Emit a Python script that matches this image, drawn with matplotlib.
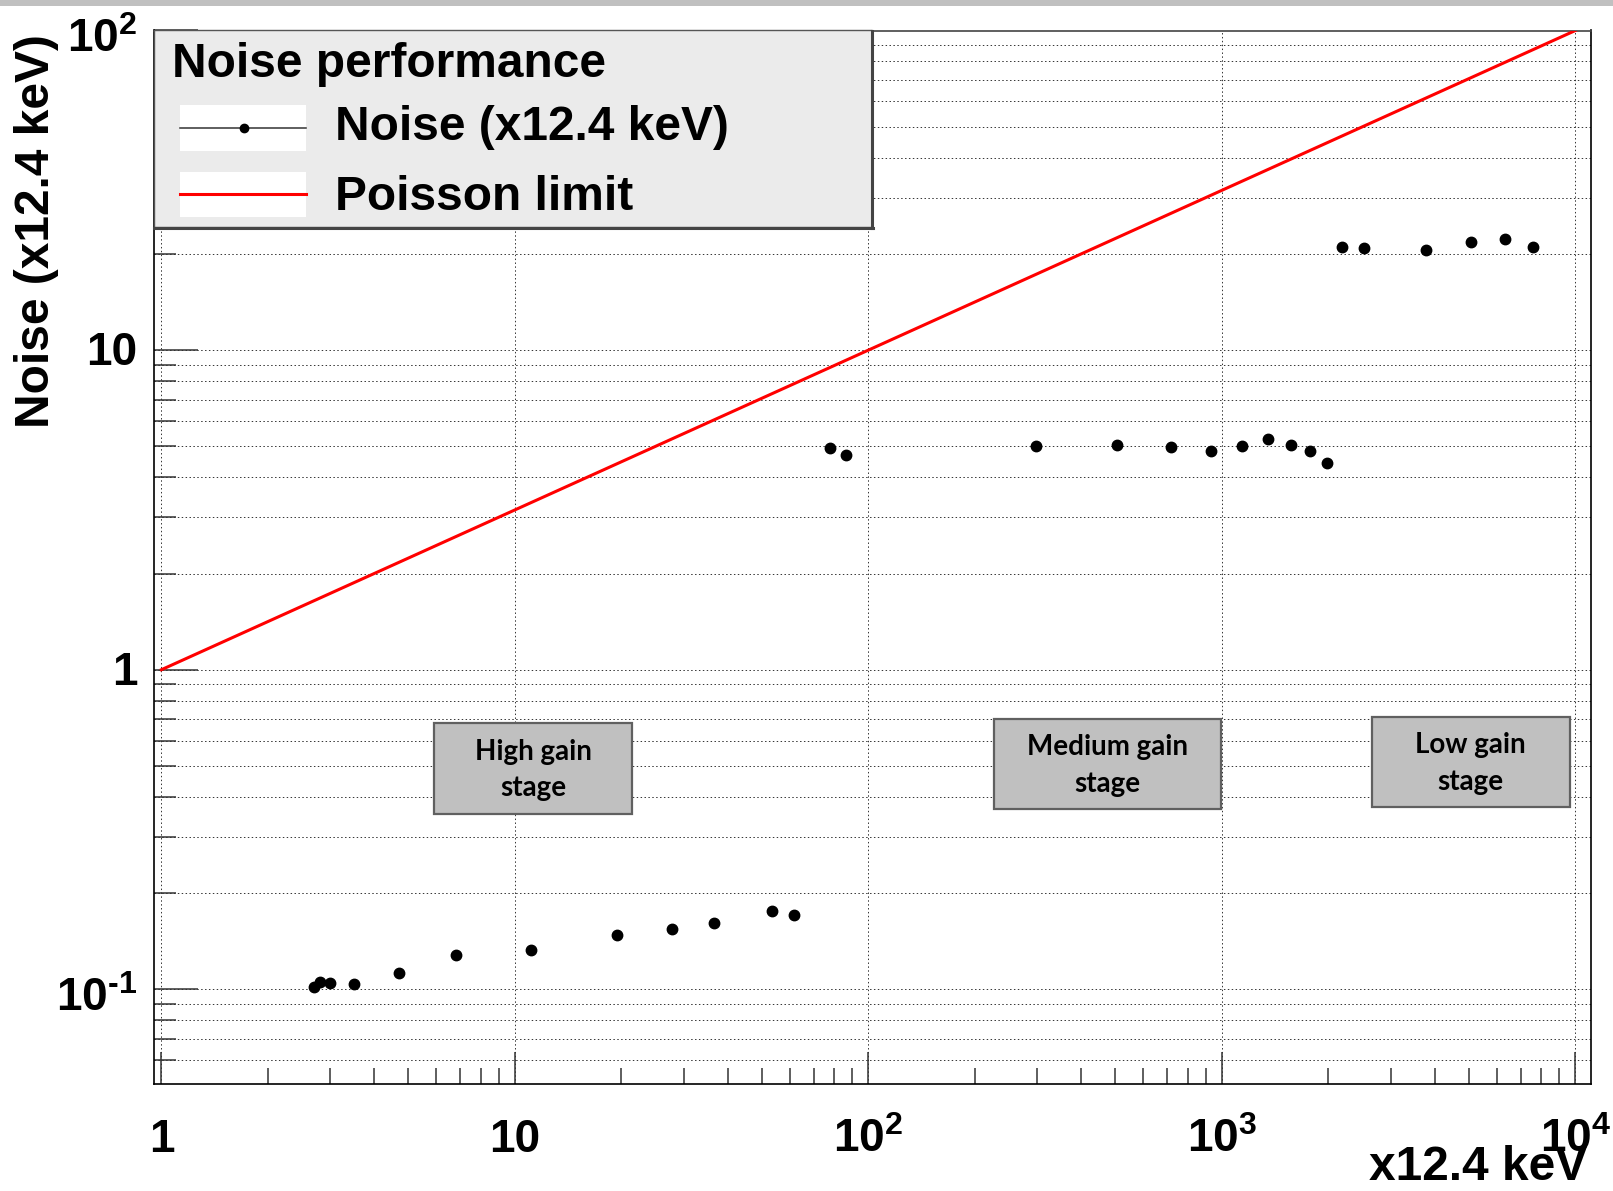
import matplotlib
matplotlib.use("Agg")
import matplotlib.pyplot as plt
import numpy as np
from matplotlib.patches import Rectangle
from matplotlib.lines import Line2D
from matplotlib.ticker import LogLocator, NullFormatter, FixedLocator
from matplotlib.transforms import Affine2D, offset_copy

# ---------------- data ----------------
high_gain_x = [2.70, 2.81, 3.00, 3.50, 4.69, 6.81, 11.1, 19.4, 27.8, 36.5, 53.2, 61.7]
high_gain_y = [0.1015, 0.1056, 0.1044, 0.1039, 0.1125, 0.128, 0.1324, 0.148, 0.1544, 0.161, 0.1758, 0.171]
medium_gain_x = [78.1, 86.6, 297, 506, 720, 934, 1141, 1352, 1564, 1771, 1978]
medium_gain_y = [4.93, 4.69, 5.00, 5.04, 4.97, 4.84, 5.00, 5.26, 5.04, 4.84, 4.43]
low_gain_x = [2188, 2520, 3791, 5052, 6304, 7576]
low_gain_y = [20.98, 20.8, 20.5, 21.75, 22.2, 21.0]
poisson_x = [1, 10000]
poisson_y = [1, 100]

x_ticks = [1, 10, 100, 1000, 10000]
x_tick_labels = ["1", "10", r"$\mathregular{10^{2}}$", r"$\mathregular{10^{3}}$", r"$\mathregular{10^{4}}$"]
y_ticks = [0.1, 1, 10, 100]
y_tick_labels = [r"$\mathregular{10}^{\text{-1}}$", "1", "10", r"$\mathregular{10^{2}}$"]

legend_title = "Noise performance"
series_label = "Noise (x12.4 keV)"
poisson_label = "Poisson limit"
x_title = "x12.4 keV"
y_title = "Noise (x12.4 keV)"
stage_labels = ["High gain\nstage", "Medium gain\nstage", "Low gain\nstage"]

# ---------------- figure ----------------
W, H, DPI = 1613, 1191, 100
plt.rcParams["font.family"] = ["Liberation Sans", "DejaVu Sans"]
plt.rcParams["font.weight"] = "bold"
plt.rcParams["mathtext.fontset"] = "custom"
plt.rcParams["mathtext.rm"] = "Liberation Sans:bold"
plt.rcParams["mathtext.bf"] = "Liberation Sans:bold"
plt.rcParams["mathtext.sf"] = "Liberation Sans:bold"
plt.rcParams["mathtext.it"] = "Liberation Sans:bold:italic"

fig = plt.figure(figsize=(W / DPI, H / DPI), dpi=DPI)
# pixel (from top-left) -> figure transform
PIX = Affine2D().scale(1.0 / W, -1.0 / H).translate(0, 1) + fig.transFigure

AX_L, AX_R, AX_T, AX_B = 153.5, 1591.0, 30.5, 1083.5
ax = fig.add_axes([AX_L / W, 1 - AX_B / H, (AX_R - AX_L) / W, (AX_B - AX_T) / H])
ax.set_xscale("log")
ax.set_yscale("log")
ax.set_xlim(0.9498, 11069)
ax.set_ylim(0.05074, 100)

# grid
grid_kw = dict(color="#333333", linewidth=0.7, linestyle=(0, (1.5, 2.5)))
ax.xaxis.set_major_locator(FixedLocator(x_ticks))
ax.xaxis.set_minor_locator(LogLocator(base=10, subs=np.arange(2, 10), numticks=30))
ax.yaxis.set_major_locator(FixedLocator(y_ticks))
ax.yaxis.set_minor_locator(LogLocator(base=10, subs=np.arange(2, 10), numticks=30))
ax.xaxis.set_minor_formatter(NullFormatter())
ax.yaxis.set_minor_formatter(NullFormatter())
ax.grid(True, which="major", axis="x", **grid_kw)
ax.grid(True, which="both", axis="y", **grid_kw)
ax.set_axisbelow(True)

ax.tick_params(axis="both", which="both", direction="in", labelbottom=False, labelleft=False,
               color="#333333", width=1.1)
ax.tick_params(axis="y", which="major", length=32)
ax.tick_params(axis="y", which="minor", length=16)
ax.tick_params(axis="x", which="major", length=23)
ax.tick_params(axis="x", which="minor", length=11.5)

for s in ["left", "bottom", "right"]:
    ax.spines[s].set_linewidth(1.2)
    ax.spines[s].set_color("black")
ax.spines["top"].set_linewidth(1.2)
ax.spines["top"].set_color("#444444")

# data
ax.plot(poisson_x, poisson_y, color="#ff0000", linewidth=2.2, zorder=3)
for xs, ys in [(high_gain_x, high_gain_y), (medium_gain_x, medium_gain_y), (low_gain_x, low_gain_y)]:
    ax.plot(xs, ys, linestyle="none", marker="o", markersize=7.5, color="black", zorder=4)

# tick labels (ROOT style)
tick_fs = 33
xlab_tr = offset_copy(ax.get_xaxis_transform(), fig=fig, x=0, y=-68.5, units="dots")
for xv, lab in zip(x_ticks, x_tick_labels):
    ax.text(xv, 0, lab, transform=xlab_tr, ha="center", va="baseline", fontsize=tick_fs,
            fontweight="bold", clip_on=False)
for yv, lab in zip(y_ticks, y_tick_labels):
    drop = 22 if "$" in lab else 15
    tr = offset_copy(ax.get_yaxis_transform(), fig=fig, x=-16, y=-drop, units="dots")
    ax.text(0, yv, lab, transform=tr, ha="right", va="baseline", fontsize=tick_fs,
            fontweight="bold", clip_on=False)

# axis titles
fig.text(1587 / W, 1 - 1180 / H, x_title, ha="right", va="baseline", fontsize=34.5, fontweight="bold")
fig.text(37 / W, 1 - 34 / H, y_title, ha="center", va="top", rotation=90, fontsize=34.5,
         fontweight="bold")

# top gray band
fig.patches.append(Rectangle((0, 0), W, 6, transform=PIX, facecolor="#c0c0c0", edgecolor="none",
                             zorder=0))

# legend box
def prect(x0, y0, x1, y1, **kw):
    r = Rectangle((x0, y0), x1 - x0, y1 - y0, transform=PIX, clip_on=False, **kw)
    ax.add_artist(r)
    return r

prect(153.5, 30, 872, 227, facecolor="#ebebeb", edgecolor="#555555", linewidth=1.0, zorder=10)
ax.add_artist(Line2D([872, 872], [31, 228], transform=PIX, color="#444444", linewidth=2.2,
                     zorder=11, clip_on=False))
ax.add_artist(Line2D([154, 873], [227.5, 227.5], transform=PIX, color="#444444", linewidth=2.2,
                     zorder=11, clip_on=False))
prect(180, 105, 306, 150.5, facecolor="white", edgecolor="none", zorder=11)
prect(180, 171.5, 306, 216.5, facecolor="white", edgecolor="none", zorder=11)
ax.add_artist(Line2D([180, 306], [128.3, 128.3], transform=PIX, color="#333333", linewidth=1.1,
                     zorder=12, clip_on=False))
ax.add_artist(Line2D([244], [128.3], transform=PIX, marker="o", markersize=6, color="black",
                     linestyle="none", zorder=13, clip_on=False))
ax.add_artist(Line2D([180, 306], [193.5, 193.5], transform=PIX, color="#ff0000", linewidth=2.2,
                     zorder=12, clip_on=False))
leg_fs = 34.5
ax.text(172, 77, legend_title, transform=PIX, ha="left", va="baseline", fontsize=leg_fs,
        fontweight="bold", zorder=14, clip_on=False)
ax.text(334.7, 140, series_label, transform=PIX, ha="left", va="baseline", fontsize=leg_fs,
        fontweight="bold", zorder=14, clip_on=False)
ax.text(334.7, 210, poisson_label, transform=PIX, ha="left", va="baseline", fontsize=leg_fs,
        fontweight="bold", zorder=14, clip_on=False)

# stage annotation boxes
stage_boxes = [(434.3, 723.3, 632.1, 814.3), (994, 719.3, 1221, 809.3), (1372, 717.3, 1569.5, 807.3)]
for (x0, y0, x1, y1), lab in zip(stage_boxes, stage_labels):
    prect(x0, y0, x1, y1, facecolor="#c0c0c0", edgecolor="#606060", linewidth=1.6, zorder=8)
    ax.text((x0 + x1) / 2, (y0 + y1) / 2 + 1, lab, transform=PIX, ha="center", va="center",
            fontsize=20, fontweight="bold", family=["Lato", "DejaVu Sans"], linespacing=1.5,
            zorder=9, clip_on=False)

fig.savefig("out.png", dpi=DPI)
